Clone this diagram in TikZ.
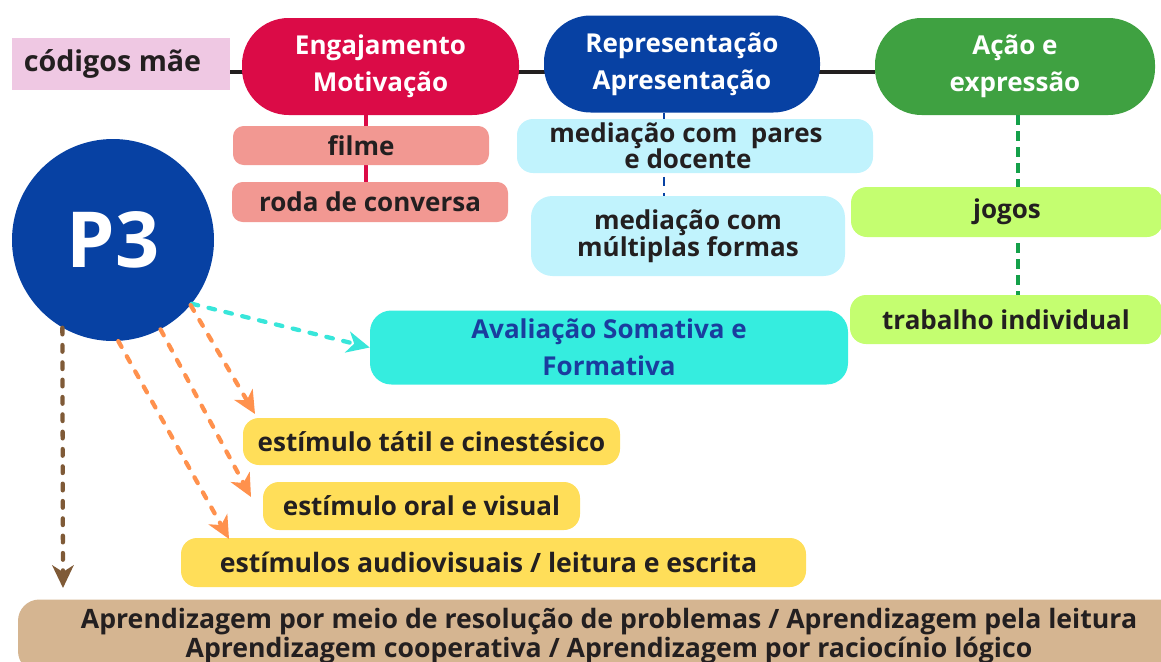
\documentclass[tikz,border=0pt]{standalone}
\usepackage{fontspec}
\setmainfont{Open Sans}
\usetikzlibrary{arrows.meta,backgrounds,calc}
\newcommand\PX{0.75pt}
\definecolor{cpink}{HTML}{EFC8E3}
\definecolor{ccrimson}{HTML}{DB0B47}
\definecolor{cblue}{HTML}{0741A3}
\definecolor{cgreen}{HTML}{3FA141}
\definecolor{csalmon}{HTML}{F29892}
\definecolor{clcyan}{HTML}{C1F3FD}
\definecolor{clime}{HTML}{C4FE70}
\definecolor{cturq}{HTML}{35EDDF}
\definecolor{cavtext}{HTML}{1A3D9E}
\definecolor{cyellow}{HTML}{FFDE59}
\definecolor{ctan}{HTML}{D5B591}
\definecolor{corange}{HTML}{FF914D}
\definecolor{carrcyan}{HTML}{38E6DA}
\definecolor{cbrown}{HTML}{7F5A37}
\definecolor{cdark}{HTML}{231F20}
\definecolor{cgdash}{HTML}{14A04A}
\begin{document}
\begin{tikzpicture}[x=0.75pt,y=-0.75pt,
  base/.style={inner sep=0pt, align=center, font=\bfseries\fontsize{19.5pt}{27.75pt}\selectfont},
  pill/.style={base, text=white, rounded corners=35pt},
  box/.style={base, text=cdark, rounded corners=#1},
  box/.default=8pt,
  darr/.style={line width=3.2pt, line cap=round, dash pattern=on 5pt off 8pt,
    -{Stealth[length=17pt,width=16pt,inset=5pt]}}
]
\useasboundingbox (0,0) rectangle (1161,661);
% top row
\node[base, fill=cpink, text=cdark, minimum width=218*\PX, minimum height=52*\PX, font=\bfseries\fontsize{21.5pt}{21.5pt}\selectfont] (cod) at (121,64) {códigos mãe\hspace*{12.75pt}};
\node[pill, fill=ccrimson, minimum width=277*\PX, minimum height=97*\PX] (eng) at (380.5,66.5) {Engajamento\\Motivação};
\node[pill, fill=cblue, minimum width=276*\PX, minimum height=97*\PX] (rep) at (682,64) {Representação\\Apresentação};
\node[pill, fill=cgreen, minimum width=280*\PX, minimum height=97*\PX] (acao) at (1015,66.5) {Ação e\\expressão};
% branches
\node[box, fill=csalmon, minimum width=256*\PX, minimum height=39*\PX] (filme) at (361,145.5) {filme};
\node[box, fill=csalmon, minimum width=276*\PX, minimum height=40*\PX] (roda) at (370,202) {roda de conversa};
\node[box=12pt, fill=clcyan, minimum width=356*\PX, minimum height=54*\PX, font=\bfseries\fontsize{19.5pt}{19.5pt}\selectfont] (medp) at (695,146) {mediação com\ \ pares\hspace*{13.5pt}\\e docente\hspace*{10.5pt}};
\node[box=16pt, fill=clcyan, minimum width=314*\PX, minimum height=80*\PX, font=\bfseries\fontsize{19.5pt}{20.25pt}\selectfont] (medm) at (688,236) {mediação com\\múltiplas formas};
\node[box=12pt, fill=clime, minimum width=312*\PX, minimum height=50*\PX] (jogos) at (1007,212) {jogos};
\node[box=12pt, fill=clime, minimum width=312*\PX, minimum height=49*\PX] (trab) at (1006,319.5) {trabalho individual};
\node[box=16pt, fill=cturq, text=cavtext, minimum width=478*\PX, minimum height=74*\PX] (aval) at (609,347.5) {Avaliação Somativa e\\Formativa};
% P3
\node[circle, fill=cblue, text=white, minimum size=202*\PX, inner sep=0pt, font=\bfseries\fontsize{58pt}{58pt}\selectfont] (p3) at (113,240) {P3};
% yellow
\node[box=12pt, fill=cyellow, minimum width=377*\PX, minimum height=47*\PX] (tat) at (431.5,441.5) {estímulo tátil e cinestésico};
\node[box=12pt, fill=cyellow, minimum width=317*\PX, minimum height=48*\PX] (oral) at (421.5,506) {estímulo oral e visual};
\node[box=12pt, fill=cyellow, minimum width=625*\PX, minimum height=49*\PX, font=\bfseries\fontsize{20pt}{20pt}\selectfont] (audio) at (493.5,562.5) {estímulos audiovisuais / leitura e escrita\hspace*{7.5pt}};
% bottom
\node[box=16pt, fill=ctan, minimum width=1182*\PX, minimum height=73*\PX, font=\bfseries\fontsize{20pt}{21.75pt}\selectfont] (bot) at (609,636) {Aprendizagem por meio de resolução de problemas / Aprendizagem pela leitura\\Aprendizagem cooperativa / Aprendizagem por raciocínio lógico};
% arrow end points
\coordinate (e1) at (255,414);
\coordinate (e2) at (251,497);
\coordinate (e3) at (229,539);
\coordinate (e4) at (63,588);
\begin{scope}[on background layer]
\draw[line width=2.5pt, cdark] ([yshift=-8*\PX]cod.east) -- ([yshift=-5.5*\PX]acao.west);
\draw[line width=2.5pt, ccrimson] ([xshift=-14.5*\PX]eng.south) -- ([xshift=-4*\PX]roda.north);
\draw[line width=2.2pt, cblue, dash pattern=on 7pt off 5pt] ([xshift=-18*\PX]rep.south) -- ([xshift=-24*\PX]medm.north);
\draw[line width=2.6pt, cgdash, dash pattern=on 7pt off 5pt] ([xshift=3*\PX]acao.south) -- ([xshift=12*\PX]trab.north);
\end{scope}
\draw[darr, carrcyan] (p3.-39) -- (aval.west);
\draw[darr, corange] (p3.-40) -- (e1);
\draw[darr, corange] (p3.-62) -- (e2);
\draw[darr, corange] (p3.-87) -- (e3);
\draw[darr, cbrown] (p3.-120) -- (e4);
\end{tikzpicture}
\end{document}
